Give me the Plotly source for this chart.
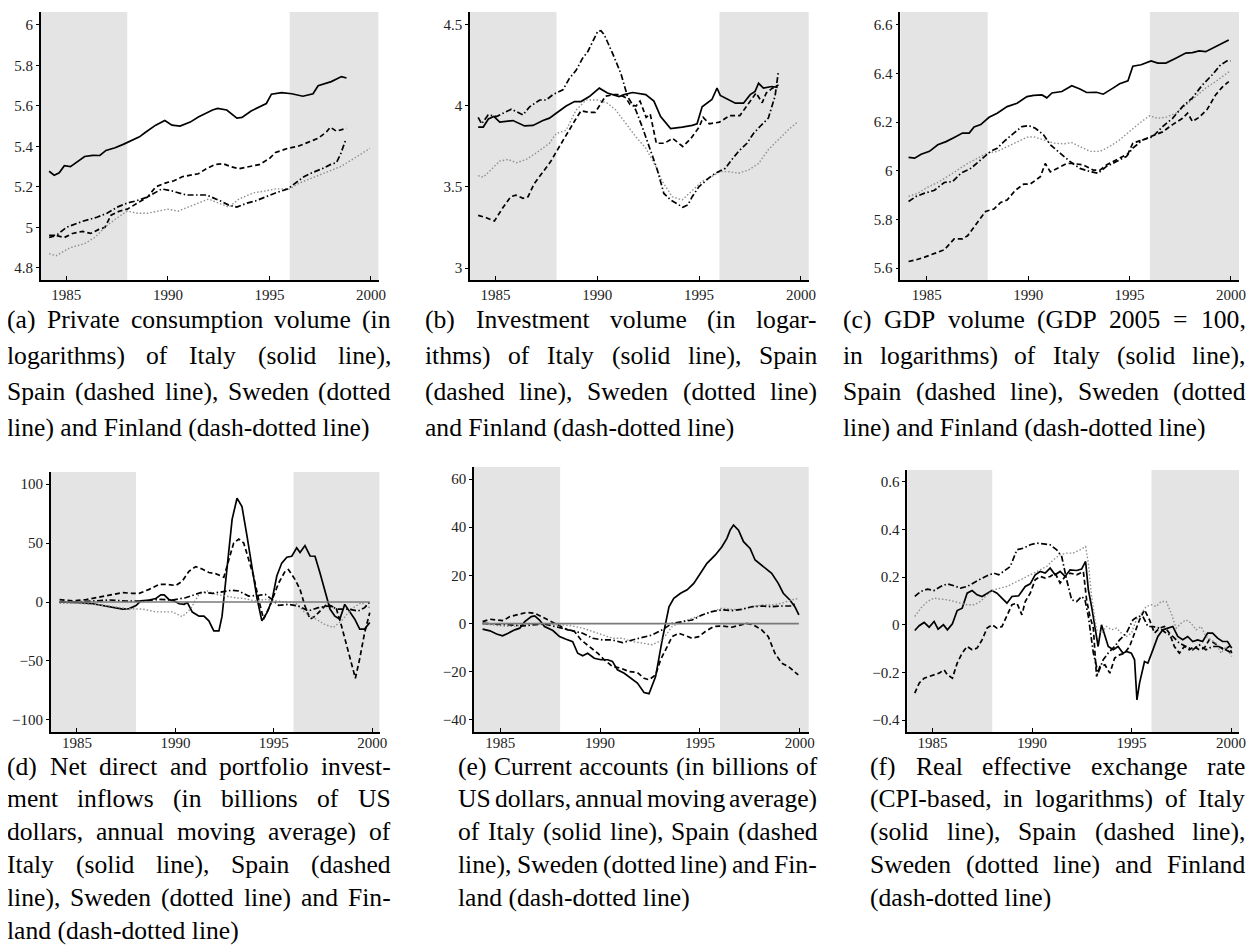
import plotly.graph_objects as go

W, H = 1259, 945
PAGE_OFFSET = 8              # default body margin of the html page
FW, FH = W - PAGE_OFFSET, H - PAGE_OFFSET

# ---------------- data (year, value) ----------------
A_ITALY = [(1984.15,5.277),(1984.4,5.258),(1984.65,5.27),(1984.9,5.305),(1985.2,5.30),(1985.5,5.32),(1985.9,5.35),(1986.3,5.356),(1986.65,5.355),(1986.95,5.38),(1987.4,5.393),(1987.8,5.41),(1988.2,5.43),(1988.6,5.447),(1988.9,5.47),(1989.4,5.505),(1989.85,5.528),(1990.2,5.505),(1990.6,5.50),(1991.1,5.52),(1991.5,5.545),(1992.2,5.58),(1992.45,5.588),(1992.9,5.58),(1993.4,5.54),(1993.65,5.543),(1994.1,5.575),(1994.85,5.612),(1995.1,5.658),(1995.6,5.666),(1996.1,5.66),(1996.65,5.648),(1997.15,5.66),(1997.4,5.70),(1998.05,5.72),(1998.55,5.745),(1998.8,5.738)]
A_SPAIN = [(1984.15,4.95),(1984.5,4.96),(1984.9,4.95),(1985.3,4.97),(1985.8,4.98),(1986.2,4.97),(1986.6,4.99),(1986.9,5.0),(1987.2,5.06),(1987.6,5.08),(1988.0,5.09),(1988.5,5.12),(1989.0,5.15),(1989.4,5.20),(1989.9,5.22),(1990.3,5.23),(1990.7,5.25),(1991.2,5.26),(1991.5,5.265),(1991.9,5.29),(1992.3,5.31),(1992.7,5.315),(1993.1,5.30),(1993.5,5.29),(1994.0,5.30),(1994.5,5.31),(1995.0,5.34),(1995.3,5.37),(1995.9,5.39),(1996.4,5.40),(1996.9,5.42),(1997.4,5.44),(1997.8,5.47),(1998.0,5.495),(1998.3,5.475),(1998.8,5.49)]
A_SWEDEN = [(1984.15,4.87),(1984.5,4.86),(1985.2,4.90),(1985.9,4.92),(1986.4,4.95),(1986.9,5.0),(1987.4,5.04),(1988.0,5.08),(1988.5,5.07),(1989.0,5.07),(1989.5,5.08),(1990.0,5.09),(1990.5,5.08),(1991.0,5.10),(1991.5,5.12),(1992.0,5.14),(1992.5,5.12),(1993.0,5.10),(1993.5,5.14),(1994.2,5.17),(1994.8,5.18),(1995.3,5.19),(1996.0,5.19),(1996.5,5.22),(1997.0,5.24),(1997.5,5.26),(1998.0,5.28),(1998.5,5.30),(1999.0,5.33),(1999.5,5.36),(1999.95,5.39)]
A_FINLAND = [(1984.15,4.96),(1984.5,4.96),(1985.0,5.0),(1985.8,5.03),(1986.5,5.05),(1987.0,5.07),(1987.5,5.10),(1988.0,5.12),(1988.4,5.13),(1989.0,5.15),(1989.7,5.19),(1990.2,5.18),(1990.9,5.16),(1991.5,5.16),(1991.9,5.16),(1992.6,5.13),(1993.0,5.11),(1993.4,5.10),(1993.9,5.12),(1994.3,5.13),(1994.8,5.15),(1995.3,5.17),(1995.9,5.19),(1996.3,5.22),(1996.7,5.25),(1997.1,5.27),(1997.6,5.29),(1998.0,5.31),(1998.3,5.32),(1998.5,5.36),(1998.75,5.43)]

B_ITALY = [(1984.15,3.87),(1984.4,3.87),(1984.65,3.92),(1984.92,3.935),(1985.21,3.90),(1985.86,3.91),(1986.43,3.877),(1986.84,3.88),(1987.33,3.91),(1987.65,3.925),(1987.98,3.955),(1988.47,4.0),(1988.88,4.027),(1989.2,4.027),(1989.61,4.058),(1990.1,4.11),(1990.5,4.08),(1991.07,4.058),(1991.32,4.07),(1991.73,4.083),(1992.38,4.07),(1992.78,4.03),(1993.11,3.935),(1993.6,3.86),(1994.17,3.87),(1994.66,3.88),(1994.9,3.89),(1995.15,3.995),(1995.63,4.04),(1995.88,4.11),(1996.04,4.065),(1996.45,4.04),(1996.78,4.017),(1997.18,4.017),(1997.51,4.07),(1997.75,4.09),(1997.92,4.14),(1998.16,4.11),(1998.57,4.12),(1998.86,4.115)]
B_SPAIN = [(1984.15,3.325),(1984.55,3.31),(1984.95,3.29),(1985.35,3.37),(1985.75,3.44),(1986.0,3.45),(1986.35,3.43),(1986.6,3.44),(1986.9,3.52),(1987.3,3.585),(1987.7,3.655),(1988.0,3.72),(1988.5,3.83),(1988.9,3.91),(1989.2,3.97),(1989.6,3.96),(1989.9,3.96),(1990.1,4.0),(1990.4,4.06),(1990.8,4.07),(1991.1,4.07),(1991.4,4.05),(1991.6,4.01),(1991.9,4.0),(1992.1,4.03),(1992.4,3.93),(1992.6,3.95),(1992.9,3.77),(1993.3,3.77),(1993.7,3.80),(1994.2,3.75),(1994.6,3.80),(1995.0,3.87),(1995.2,3.93),(1995.5,3.89),(1996.0,3.90),(1996.5,3.94),(1997.0,3.94),(1997.5,4.03),(1997.8,4.08),(1998.1,4.02),(1998.3,4.08),(1998.6,4.11),(1998.9,4.13)]
B_SWEDEN = [(1984.15,3.57),(1984.4,3.56),(1984.89,3.62),(1985.21,3.66),(1985.62,3.67),(1986.03,3.65),(1986.51,3.67),(1987.0,3.71),(1987.65,3.77),(1987.98,3.83),(1988.47,3.85),(1988.96,3.975),(1989.45,4.037),(1990.02,4.037),(1990.5,4.017),(1990.91,3.975),(1991.4,3.893),(1991.89,3.81),(1992.38,3.74),(1992.87,3.627),(1993.19,3.535),(1993.68,3.44),(1994.17,3.42),(1994.66,3.48),(1995.15,3.535),(1995.63,3.565),(1996.04,3.595),(1996.45,3.595),(1996.94,3.585),(1997.43,3.605),(1997.92,3.645),(1998.4,3.73),(1998.89,3.79),(1999.38,3.853),(1999.87,3.905)]
B_FINLAND = [(1984.15,3.93),(1984.32,3.89),(1984.64,3.945),(1985.05,3.935),(1985.37,3.955),(1985.78,3.98),(1986.03,3.965),(1986.35,3.945),(1986.68,3.995),(1987.17,4.037),(1987.49,4.037),(1987.82,4.07),(1988.31,4.10),(1988.63,4.17),(1988.96,4.22),(1989.28,4.295),(1989.53,4.335),(1989.77,4.40),(1990.02,4.46),(1990.18,4.465),(1990.34,4.44),(1990.75,4.325),(1991.16,4.20),(1991.48,4.06),(1991.89,3.975),(1992.21,3.87),(1992.54,3.75),(1992.95,3.605),(1993.27,3.46),(1993.6,3.42),(1994.0,3.39),(1994.2,3.375),(1994.45,3.39),(1994.66,3.44),(1994.98,3.50),(1995.47,3.555),(1995.8,3.585),(1996.29,3.615),(1996.61,3.67),(1996.94,3.72),(1997.35,3.77),(1997.67,3.83),(1998.0,3.875),(1998.4,3.925),(1998.73,4.06),(1998.89,4.21)]

C_ITALY = [(1984.10,6.055),(1984.40,6.052),(1984.72,6.068),(1985.13,6.08),(1985.54,6.107),(1985.95,6.12),(1986.35,6.137),(1986.76,6.155),(1987.09,6.155),(1987.33,6.18),(1987.66,6.19),(1988.07,6.22),(1988.47,6.237),(1988.96,6.264),(1989.45,6.278),(1989.94,6.305),(1990.27,6.31),(1990.68,6.312),(1990.92,6.30),(1991.17,6.32),(1991.66,6.326),(1992.15,6.35),(1992.55,6.336),(1992.88,6.322),(1993.37,6.323),(1993.70,6.315),(1994.18,6.34),(1994.51,6.358),(1994.92,6.37),(1995.16,6.43),(1995.57,6.436),(1996.06,6.452),(1996.39,6.443),(1996.79,6.443),(1997.28,6.463),(1997.77,6.484),(1998.10,6.486),(1998.43,6.493),(1998.75,6.49),(1999.08,6.504),(1999.49,6.518),(1999.89,6.538)]
C_SPAIN = [(1984.10,5.627),(1984.48,5.634),(1984.89,5.645),(1985.38,5.659),(1985.86,5.675),(1986.35,5.72),(1986.76,5.72),(1987.01,5.733),(1987.50,5.79),(1987.90,5.833),(1988.31,5.843),(1988.64,5.87),(1988.96,5.88),(1989.37,5.92),(1989.78,5.945),(1990.11,5.946),(1990.60,5.976),(1990.84,6.03),(1991.09,5.996),(1991.42,6.01),(1991.91,6.03),(1992.23,6.03),(1992.72,6.024),(1993.21,6.003),(1993.54,6.003),(1993.86,6.024),(1994.18,6.038),(1994.59,6.056),(1994.92,6.07),(1995.16,6.114),(1995.65,6.127),(1996.14,6.144),(1996.63,6.16),(1997.12,6.19),(1997.61,6.216),(1997.86,6.237),(1998.10,6.203),(1998.43,6.22),(1998.83,6.253),(1999.24,6.312),(1999.57,6.344),(1999.89,6.367)]
C_SWEDEN = [(1984.10,5.895),(1984.56,5.908),(1985.05,5.933),(1985.54,5.952),(1986.03,5.977),(1986.52,6.004),(1987.01,6.03),(1987.50,6.052),(1987.99,6.073),(1988.47,6.08),(1988.96,6.10),(1989.45,6.12),(1989.94,6.138),(1990.27,6.14),(1990.76,6.127),(1991.25,6.114),(1991.74,6.111),(1992.15,6.116),(1992.55,6.10),(1993.04,6.08),(1993.54,6.08),(1994.02,6.10),(1994.51,6.127),(1995.0,6.162),(1995.49,6.196),(1995.98,6.226),(1996.39,6.216),(1996.79,6.22),(1997.28,6.237),(1997.77,6.27),(1998.26,6.305),(1998.75,6.34),(1999.24,6.367),(1999.73,6.395),(1999.98,6.412)]
C_FINLAND = [(1984.10,5.874),(1984.48,5.895),(1984.89,5.908),(1985.38,5.92),(1985.86,5.952),(1986.27,5.956),(1986.68,5.99),(1987.17,6.01),(1987.66,6.045),(1988.15,6.08),(1988.47,6.093),(1988.80,6.12),(1989.29,6.155),(1989.70,6.182),(1990.02,6.186),(1990.35,6.175),(1990.76,6.148),(1991.09,6.107),(1991.57,6.073),(1992.06,6.038),(1992.55,6.01),(1993.04,5.997),(1993.45,5.99),(1993.86,6.018),(1994.35,6.038),(1994.84,6.059),(1995.16,6.093),(1995.65,6.127),(1996.14,6.14),(1996.63,6.182),(1997.12,6.216),(1997.61,6.264),(1998.10,6.30),(1998.59,6.353),(1999.08,6.395),(1999.49,6.436),(1999.81,6.452),(1999.98,6.452)]

D_ITALY = [(1984.12,0),(1984.46,0),(1985.13,-0.5),(1985.81,-1.5),(1986.31,-3),(1986.65,-3.5),(1986.99,-5),(1987.32,-6),(1987.66,-5.6),(1988.0,-3),(1988.25,1),(1988.67,1.7),(1989.01,3),(1989.26,6),(1989.43,6),(1989.68,2),(1989.93,1),(1990.19,-1.5),(1990.44,-2),(1990.61,-0.5),(1990.86,-8.5),(1991.2,-12),(1991.45,-12),(1991.7,-16),(1991.95,-24.5),(1992.21,-24.5),(1992.37,-12),(1992.63,27.5),(1992.88,70),(1993.13,88),(1993.38,81),(1993.64,55.6),(1993.89,30),(1994.14,3.6),(1994.39,-16),(1994.65,-9),(1994.9,1),(1995.15,22),(1995.4,33),(1995.66,38),(1995.91,38.8),(1996.16,46),(1996.33,42),(1996.58,47.8),(1996.84,39),(1997.09,38.8),(1997.34,24.7),(1997.59,10.7),(1997.85,-6),(1998.1,-12),(1998.35,-14.6),(1998.6,-2),(1998.86,-9),(1999.11,-14.6),(1999.36,-23),(1999.61,-23),(1999.87,-17.4)]
D_SPAIN = [(1984.12,2),(1984.8,1),(1985.47,2),(1986.14,4),(1986.82,6.5),(1987.32,8),(1987.83,7.3),(1988.16,7.3),(1988.67,10.7),(1989.18,15),(1989.51,15),(1990.02,14),(1990.35,17.7),(1990.69,26),(1991.03,30),(1991.36,28),(1991.7,25),(1992.04,24),(1992.46,21),(1992.71,36),(1992.96,50),(1993.22,53.4),(1993.47,50),(1993.72,36),(1993.97,22),(1994.23,2),(1994.48,-14.6),(1994.73,-6),(1994.98,5),(1995.24,16),(1995.57,26),(1995.74,27.5),(1996.08,19),(1996.33,10.7),(1996.58,-3.4),(1996.84,-14.6),(1997.09,-12),(1997.34,-7.6),(1997.68,-2),(1997.93,-3.4),(1998.18,-6),(1998.43,-20),(1998.69,-37),(1998.94,-54),(1999.14,-64.6),(1999.36,-48),(1999.61,-26),(1999.87,-9)]
D_SWEDEN = [(1984.12,-1),(1984.97,-1),(1985.81,-2),(1986.65,-3.4),(1987.49,-5.6),(1988.33,-6),(1989.01,-8.4),(1989.85,-8.4),(1990.35,-12.4),(1990.77,-6),(1991.2,6.5),(1991.62,9.3),(1992.04,6.5),(1992.54,5),(1993.05,3.6),(1993.55,2.8),(1994.06,0.8),(1994.56,2.2),(1995.07,0.8),(1995.57,0),(1996.08,-0.5),(1996.58,-9),(1997.09,-14),(1997.59,-19),(1998.01,-21.6),(1998.43,-16),(1998.94,-6),(1999.44,-0.5),(1999.87,-4.8)]
D_FINLAND = [(1984.12,0),(1984.97,0),(1985.81,0.8),(1986.65,1.7),(1987.49,0.8),(1988.33,0.8),(1989.18,2.2),(1989.85,1.7),(1990.52,3.6),(1991.03,6.5),(1991.36,8.4),(1991.87,7.3),(1992.37,8.4),(1992.88,10),(1993.22,9.3),(1993.72,5),(1994.23,5.6),(1994.56,6.5),(1994.9,2.2),(1995.24,-2.8),(1995.74,-2),(1996.25,-3.4),(1996.75,-7.6),(1997.26,-4.8),(1997.76,-3.4),(1998.27,-6),(1998.77,-6),(1999.28,-7.6),(1999.61,-4.8),(1999.87,0)]

E_ITALY = [(1984.12,-2.3),(1984.49,-3),(1984.82,-4.3),(1985.12,-5.1),(1985.4,-4),(1985.73,-2.6),(1985.98,-1.9),(1986.23,0.8),(1986.56,2.9),(1986.73,3.2),(1986.97,1.5),(1987.22,-1.2),(1987.64,-2.9),(1987.97,-5.4),(1988.3,-6.5),(1988.63,-7.5),(1988.88,-12.3),(1989.13,-13.4),(1989.38,-12.3),(1989.71,-14.4),(1990.04,-15),(1990.38,-15),(1990.62,-15.7),(1990.87,-19.2),(1991.21,-20.6),(1991.54,-22.7),(1991.87,-24.7),(1992.2,-28.6),(1992.45,-29.1),(1992.78,-22),(1993.11,-6.8),(1993.45,7),(1993.69,10.5),(1994.03,12.6),(1994.36,14),(1994.69,16.7),(1995.02,20.9),(1995.35,25),(1995.77,28.5),(1996.1,31.9),(1996.35,35.4),(1996.51,38.8),(1996.68,40.9),(1996.93,38.8),(1997.18,34),(1997.51,31.2),(1997.76,26.4),(1998.17,23.6),(1998.59,20.9),(1998.92,16.7),(1999.17,12.6),(1999.5,9.8),(1999.75,7),(1999.95,3.6)]
E_SPAIN = [(1984.12,0.8),(1984.49,1.8),(1984.82,1.5),(1985.15,1.2),(1985.48,2.9),(1985.9,3.9),(1986.31,4.6),(1986.73,4.3),(1987.06,2.9),(1987.39,1.8),(1987.72,0.1),(1988.05,-1.2),(1988.38,-2.6),(1988.72,-3.3),(1989.05,-6.8),(1989.46,-9.5),(1989.88,-12.3),(1990.21,-15),(1990.62,-17.8),(1991.04,-18.5),(1991.45,-19.9),(1991.87,-20.3),(1992.2,-22.7),(1992.45,-23.3),(1992.78,-21.3),(1993.03,-15),(1993.28,-10.9),(1993.61,-5.4),(1993.94,-4),(1994.28,-5.1),(1994.61,-6.1),(1994.94,-5.4),(1995.27,-3.3),(1995.69,-1.2),(1996.1,-1),(1996.6,-1.5),(1997.01,-0.6),(1997.34,0.1),(1997.68,-0.6),(1998.09,-2.6),(1998.42,-5.4),(1998.75,-12.3),(1999.09,-16.4),(1999.42,-17.8),(1999.92,-21.3)]
E_SWEDEN = [(1984.12,-0.1),(1984.65,-0.6),(1985.15,-1),(1985.65,-1.2),(1986.14,-0.6),(1986.64,-0.1),(1987.14,0.1),(1987.64,-0.1),(1988.14,-0.6),(1988.63,-1),(1989.13,-1.9),(1989.63,-3.3),(1990.13,-4.7),(1990.62,-6.1),(1991.12,-6.1),(1991.62,-7.5),(1992.12,-8.1),(1992.62,-8.8),(1993.11,-6.8),(1993.61,-1.2),(1994.11,0.8),(1994.61,2.2),(1995.11,3.6),(1995.6,5),(1996.1,6.4),(1996.6,5.9),(1997.1,5.9),(1997.59,7),(1998.09,7.7),(1998.59,7.7),(1999.09,8.4),(1999.58,9.8),(1999.95,10.5)]
E_FINLAND = [(1984.12,0.1),(1984.65,-0.1),(1985.15,-0.3),(1985.65,-0.6),(1986.14,-1),(1986.64,-0.6),(1987.14,-0.1),(1987.64,-1),(1988.14,-1.9),(1988.63,-2.9),(1989.13,-4),(1989.63,-6.1),(1990.13,-6.8),(1990.62,-6.8),(1991.12,-7.9),(1991.62,-6.8),(1992.12,-5.7),(1992.62,-4.7),(1993.11,-2.6),(1993.61,0.1),(1994.11,0.8),(1994.61,1.5),(1995.11,3.6),(1995.6,5),(1996.1,5.7),(1996.6,5.4),(1997.1,5.9),(1997.59,7),(1998.09,7.3),(1998.59,7),(1999.09,7.3),(1999.58,7.3),(1999.83,8.7)]

F_ITALY = [(1984.11,-0.024),(1984.33,-0.004),(1984.58,0.01),(1984.83,-0.01),(1985.08,0.014),(1985.28,-0.018),(1985.55,0),(1985.75,-0.021),(1986.0,0.004),(1986.24,0.06),(1986.49,0.07),(1986.74,0.133),(1986.99,0.144),(1987.24,0.126),(1987.49,0.119),(1987.74,0.133),(1987.99,0.144),(1988.24,0.133),(1988.49,0.112),(1988.74,0.091),(1988.99,0.119),(1989.33,0.122),(1989.66,0.161),(1989.91,0.172),(1990.16,0.21),(1990.41,0.224),(1990.66,0.217),(1990.91,0.238),(1991.16,0.21),(1991.41,0.224),(1991.66,0.203),(1991.91,0.231),(1992.24,0.228),(1992.49,0.234),(1992.69,0.266),(1992.83,0.147),(1992.99,0.077),(1993.16,-0.007),(1993.32,-0.091),(1993.49,0),(1993.66,-0.049),(1993.83,-0.091),(1994.08,-0.105),(1994.32,-0.091),(1994.57,-0.119),(1994.74,-0.112),(1994.99,-0.119),(1995.15,-0.147),(1995.27,-0.315),(1995.4,-0.245),(1995.65,-0.154),(1995.82,-0.161),(1996.07,-0.105),(1996.32,-0.049),(1996.57,-0.021),(1996.82,-0.014),(1997.07,-0.007),(1997.32,-0.049),(1997.57,-0.063),(1997.82,-0.049),(1998.07,-0.07),(1998.32,-0.063),(1998.57,-0.07),(1998.82,-0.035),(1999.07,-0.035),(1999.32,-0.056),(1999.57,-0.07),(1999.82,-0.07),(2000.03,-0.098)]
F_SPAIN = [(1984.11,-0.287),(1984.33,-0.245),(1984.58,-0.224),(1984.83,-0.217),(1985.08,-0.21),(1985.33,-0.203),(1985.58,-0.189),(1985.75,-0.21),(1986.0,-0.224),(1986.24,-0.161),(1986.49,-0.119),(1986.74,-0.091),(1986.99,-0.105),(1987.24,-0.098),(1987.49,-0.063),(1987.74,-0.014),(1987.99,0),(1988.24,-0.014),(1988.49,-0.007),(1988.74,0.035),(1988.99,0.084),(1989.24,0.091),(1989.49,0.042),(1989.66,0.098),(1989.91,0.133),(1990.16,0.189),(1990.41,0.203),(1990.66,0.196),(1990.91,0.203),(1991.16,0.217),(1991.41,0.175),(1991.66,0.203),(1991.91,0.217),(1992.24,0.21),(1992.58,0.224),(1992.74,0.105),(1992.91,0.035),(1993.08,-0.014),(1993.24,-0.217),(1993.41,-0.175),(1993.66,-0.168),(1993.91,-0.203),(1994.15,-0.14),(1994.4,-0.126),(1994.65,-0.119),(1994.9,-0.091),(1995.15,-0.035),(1995.4,0.021),(1995.65,0.063),(1995.9,0.021),(1996.15,-0.035),(1996.4,-0.014),(1996.65,-0.007),(1996.9,-0.035),(1997.15,-0.091),(1997.4,-0.119),(1997.65,-0.091),(1997.9,-0.105),(1998.15,-0.091),(1998.4,-0.105),(1998.65,-0.098),(1998.9,-0.063),(1999.15,-0.077),(1999.4,-0.091),(1999.65,-0.105),(1999.9,-0.091),(2000.03,-0.119)]
F_SWEDEN = [(1984.11,0.035),(1984.41,0.07),(1984.75,0.098),(1985.08,0.112),(1985.41,0.108),(1985.75,0.105),(1986.08,0.098),(1986.41,0.091),(1986.74,0.084),(1987.08,0.084),(1987.41,0.098),(1987.74,0.126),(1988.08,0.147),(1988.41,0.154),(1988.74,0.161),(1989.08,0.175),(1989.41,0.189),(1989.74,0.203),(1990.07,0.217),(1990.41,0.231),(1990.74,0.245),(1991.07,0.273),(1991.41,0.294),(1991.74,0.301),(1992.07,0.301),(1992.41,0.315),(1992.69,0.329),(1992.83,0.259),(1992.99,0.119),(1993.24,-0.021),(1993.49,-0.035),(1993.74,-0.007),(1993.99,-0.021),(1994.24,-0.014),(1994.49,-0.035),(1994.74,-0.049),(1994.99,-0.035),(1995.24,0.021),(1995.49,0.049),(1995.74,0.077),(1995.99,0.084),(1996.24,0.077),(1996.49,0.098),(1996.74,0.098),(1996.99,0.049),(1997.24,-0.014),(1997.49,0.007),(1997.74,0.021),(1997.99,0.007),(1998.24,-0.021),(1998.49,-0.007),(1998.74,-0.049),(1998.99,-0.063),(1999.24,-0.077),(1999.49,-0.119),(1999.73,-0.091),(2000.03,-0.133)]
F_FINLAND = [(1984.11,0.119),(1984.41,0.14),(1984.75,0.15),(1985.08,0.144),(1985.41,0.161),(1985.75,0.172),(1986.08,0.164),(1986.41,0.154),(1986.74,0.161),(1987.08,0.175),(1987.41,0.192),(1987.74,0.206),(1988.08,0.217),(1988.33,0.21),(1988.58,0.224),(1988.91,0.245),(1989.24,0.315),(1989.58,0.322),(1989.91,0.336),(1990.24,0.343),(1990.57,0.34),(1990.91,0.336),(1991.24,0.315),(1991.49,0.287),(1991.74,0.189),(1991.99,0.105),(1992.24,0.098),(1992.49,0.119),(1992.66,0.105),(1992.83,0.035),(1993.08,-0.119),(1993.32,-0.203),(1993.57,-0.147),(1993.82,-0.119),(1994.15,-0.091),(1994.4,-0.063),(1994.74,-0.035),(1995.07,0.021),(1995.32,0.035),(1995.57,0.035),(1995.82,-0.007),(1996.07,-0.007),(1996.4,-0.014),(1996.74,-0.035),(1997.07,-0.049),(1997.4,-0.077),(1997.74,-0.091),(1998.07,-0.105),(1998.4,-0.084),(1998.73,-0.105),(1999.07,-0.091),(1999.4,-0.091),(1999.73,-0.105),(2000.03,-0.119)]

YEAR_TICKS = [1985, 1990, 1995, 2000]
SHADE_LEFT_END = 1988.0
SHADE_RIGHT_START = 1996.0

A_YTICKS = [4.8, 5.0, 5.2, 5.4, 5.6, 5.8, 6.0]
A_YLABELS = ["4.8", "5", "5.2", "5.4", "5.6", "5.8", "6"]
B_YTICKS = [3.0, 3.5, 4.0, 4.5]
B_YLABELS = ["3", "3.5", "4", "4.5"]
C_YTICKS = [5.6, 5.8, 6.0, 6.2, 6.4, 6.6]
C_YLABELS = ["5.6", "5.8", "6", "6.2", "6.4", "6.6"]
D_YTICKS = [-100, -50, 0, 50, 100]
D_YLABELS = ["\u2212100", "\u221250", "0", "50", "100"]
E_YTICKS = [-40, -20, 0, 20, 40, 60]
E_YLABELS = ["\u221240", "\u221220", "0", "20", "40", "60"]
F_YTICKS = [-0.4, -0.2, 0.0, 0.2, 0.4, 0.6]
F_YLABELS = ["\u22120.4", "\u22120.2", "0", "0.2", "0.4", "0.6"]

CAPTION_A = ["(a) Private consumption volume (in", "logarithms) of Italy (solid line),",
             "Spain (dashed line), Sweden (dotted", "line) and Finland (dash-dotted line)"]
CAPTION_B = ["(b) Investment volume (in logar-", "ithms) of Italy (solid line), Spain",
             "(dashed line), Sweden (dotted line)", "and Finland (dash-dotted line)"]
CAPTION_C = ["(c) GDP volume (GDP 2005 = 100,", "in logarithms) of Italy (solid line),",
             "Spain (dashed line), Sweden (dotted", "line) and Finland (dash-dotted line)"]
CAPTION_D = ["(d) Net direct and portfolio invest-", "ment inflows (in billions of US",
             "dollars, annual moving average) of", "Italy (solid line), Spain (dashed",
             "line), Sweden (dotted line) and Fin-", "land (dash-dotted line)"]
CAPTION_E = ["(e) Current accounts (in billions of", "US dollars, annual moving average)",
             "of Italy (solid line), Spain (dashed", "line), Sweden (dotted line) and Fin-",
             "land (dash-dotted line)"]
CAPTION_F = ["(f) Real effective exchange rate", "(CPI-based, in logarithms) of Italy",
             "(solid line), Spain (dashed line),", "Sweden (dotted line) and Finland",
             "(dash-dotted line)"]

# ---------------- styles / layout geometry (page pixels) ----------------
STYLES = {
    "Italy":   dict(color="black", width=1.7, dash="solid"),
    "Spain":   dict(color="black", width=1.7, dash="5px,3px"),
    "Sweden":  dict(color="#8f8f8f", width=1.4, dash="1.5px,2px"),
    "Finland": dict(color="black", width=1.7, dash="6px,2.5px,1.5px,2.5px"),
}
SHADE = "#e4e4e4"
SERIF = "Liberation Serif"
CAP_FS = 25.6
TOP_CAP_Y, TOP_CAP_DY = 319, 36.0
BOT_CAP_Y, BOT_CAP_DY = 766, 32.9

PANELS = [
    dict(box=(41, 12, 381, 280), xr=[1983.74, 2000.38], yr=[4.74, 6.064], yt=A_YTICKS, yl=A_YLABELS,
         series=[("Italy", A_ITALY), ("Spain", A_SPAIN), ("Sweden", A_SWEDEN), ("Finland", A_FINLAND)],
         zero=False, cap=CAPTION_A, cap_x=(7, 393), cap_y=TOP_CAP_Y, cap_dy=TOP_CAP_DY, xstand=0),
    dict(box=(473, 12, 814, 280), xr=[1983.75, 2000.39], yr=[2.926, 4.58], yt=B_YTICKS, yl=B_YLABELS,
         series=[("Italy", B_ITALY), ("Spain", B_SPAIN), ("Sweden", B_SWEDEN), ("Finland", B_FINLAND)],
         zero=False, cap=CAPTION_B, cap_x=(428, 822), cap_y=TOP_CAP_Y, cap_dy=TOP_CAP_DY, xstand=0),
    dict(box=(906, 12, 1247, 280), xr=[1983.69, 2000.40], yr=[5.551, 6.653], yt=C_YTICKS, yl=C_YLABELS,
         series=[("Italy", C_ITALY), ("Spain", C_SPAIN), ("Sweden", C_SWEDEN), ("Finland", C_FINLAND)],
         zero=False, cap=CAPTION_C, cap_x=(848, 1253), cap_y=TOP_CAP_Y, cap_dy=TOP_CAP_DY, xstand=0),
    dict(box=(51, 472, 382, 732), xr=[1983.67, 2000.37], yr=[-110.2, 110.2], yt=D_YTICKS, yl=D_YLABELS,
         series=[("Italy", D_ITALY), ("Spain", D_SPAIN), ("Sweden", D_SWEDEN), ("Finland", D_FINLAND)],
         zero=True, cap=CAPTION_D, cap_x=(7, 393), cap_y=BOT_CAP_Y, cap_dy=BOT_CAP_DY, xstand=-4),
    dict(box=(477, 467, 814, 732), xr=[1983.69, 2000.45], yr=[-45.0, 65.0], yt=E_YTICKS, yl=E_YLABELS,
         series=[("Italy", E_ITALY), ("Spain", E_SPAIN), ("Sweden", E_SWEDEN), ("Finland", E_FINLAND)],
         zero=True, cap=CAPTION_E, cap_x=(461, 822), cap_y=BOT_CAP_Y, cap_dy=BOT_CAP_DY, xstand=-4),
    dict(box=(913, 470, 1247, 732), xr=[1983.73, 2000.40], yr=[-0.45, 0.65], yt=F_YTICKS, yl=F_YLABELS,
         series=[("Italy", F_ITALY), ("Spain", F_SPAIN), ("Sweden", F_SWEDEN), ("Finland", F_FINLAND)],
         zero=False, cap=CAPTION_F, cap_x=(876, 1253), cap_y=BOT_CAP_Y, cap_dy=BOT_CAP_DY, xstand=-4),
]

# Times-Roman advance widths (1/1000 em), metric-compatible with Liberation Serif
TIMES_W = {" ": 250, "(": 333, ")": 333, ",": 250, "-": 333, ".": 250, "=": 564}
TIMES_W.update({d: 500 for d in "0123456789"})
TIMES_W.update(dict(zip("ABCDEFGHIJKLMNOPQRSTUVWXYZ",
                        [722, 667, 667, 722, 611, 556, 722, 722, 333, 389, 722, 611, 889,
                         722, 722, 556, 722, 667, 556, 611, 722, 722, 944, 722, 722, 611])))
TIMES_W.update(dict(zip("abcdefghijklmnopqrstuvwxyz",
                        [444, 500, 444, 500, 444, 333, 500, 500, 278, 278, 500, 278, 778,
                         500, 500, 500, 500, 333, 389, 278, 500, 500, 722, 500, 500, 444])))


def text_width(s, fs):
    return sum(TIMES_W.get(ch, 500) for ch in s) * fs / 1000.0


def fx(px):
    return (px - PAGE_OFFSET) / FW


def fy(py):
    return 1 - (py - PAGE_OFFSET) / FH


fig = go.Figure()
layout = dict(width=FW, height=FH, margin=dict(l=0, r=0, t=0, b=0),
              paper_bgcolor="white", plot_bgcolor="white", showlegend=False)
shapes, annotations = [], []


def cap_ann(text, px, py, xanchor):
    annotations.append(dict(text=text, x=fx(px), y=fy(py), xref="paper", yref="paper",
                            xanchor=xanchor, yanchor="middle", showarrow=False,
                            borderpad=0, borderwidth=0,
                            font=dict(family=SERIF, size=CAP_FS, color="black")))


for i, p in enumerate(PANELS):
    n = "" if i == 0 else str(i + 1)
    xa, ya = "x" + n, "y" + n
    L, T, R, B = p["box"]
    layout["xaxis" + n] = dict(domain=[fx(L), fx(R)], range=p["xr"], anchor=ya,
                               tickmode="array", tickvals=YEAR_TICKS,
                               ticktext=[str(v) for v in YEAR_TICKS],
                               ticks="inside", ticklen=4, tickwidth=1, tickcolor="black",
                               ticklabelstandoff=p["xstand"],
                               showline=True, linecolor="black", linewidth=1.5,
                               showgrid=False, zeroline=False,
                               tickfont=dict(family=SERIF, size=15, color="#222"))
    layout["yaxis" + n] = dict(domain=[fy(B), fy(T)], range=p["yr"], anchor=xa,
                               tickmode="array", tickvals=p["yt"], ticktext=p["yl"],
                               ticks="outside", ticklen=3, tickwidth=1, tickcolor="black",
                               showline=True, linecolor="black", linewidth=1.5,
                               showgrid=False, zeroline=False,
                               tickfont=dict(family=SERIF, size=15, color="#222"))
    for x0, x1 in [(p["xr"][0], SHADE_LEFT_END), (SHADE_RIGHT_START, p["xr"][1])]:
        shapes.append(dict(type="rect", xref=xa, yref=ya + " domain", x0=x0, x1=x1, y0=0, y1=1,
                           fillcolor=SHADE, line=dict(width=0), layer="below"))
    for name, pts in p["series"]:
        xs = [q[0] for q in pts]
        ys = [q[1] for q in pts]
        fig.add_trace(go.Scatter(x=xs, y=ys, mode="lines", line=STYLES[name], name=name,
                                 xaxis=xa, yaxis=ya, hoverinfo="skip"))
    if p["zero"]:
        it = p["series"][0][1]
        fig.add_trace(go.Scatter(x=[it[0][0], it[-1][0]], y=[0, 0], mode="lines",
                                 line=dict(color="#7a7a7a", width=1.6), xaxis=xa, yaxis=ya,
                                 hoverinfo="skip"))
    # justified caption (last line left-aligned)
    cl, cr = p["cap_x"]
    for k, line in enumerate(p["cap"]):
        py = p["cap_y"] + k * p["cap_dy"]
        if k == len(p["cap"]) - 1:
            cap_ann(line, cl, py, "left")
            continue
        words = line.split(" ")
        widths = [text_width(w, CAP_FS) for w in words]
        gap = (cr - cl - sum(widths)) / (len(words) - 1)
        x = cl
        for w, wd in zip(words, widths):
            cap_ann(w, x, py, "left")
            x += wd + gap

layout["shapes"] = shapes
layout["annotations"] = annotations
fig.update_layout(**layout)
fig.write_html("out.html")
